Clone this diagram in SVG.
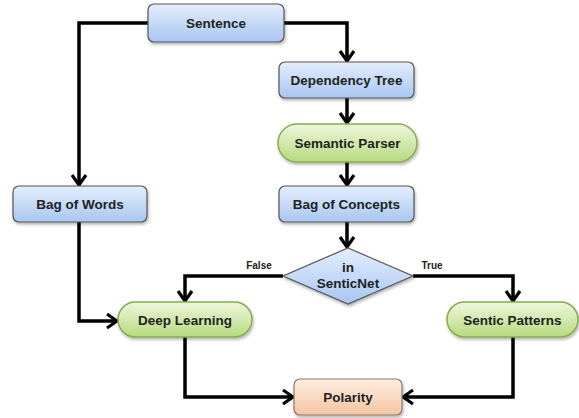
<svg xmlns="http://www.w3.org/2000/svg" width="579" height="418" viewBox="0 0 579 418">
<defs>
<linearGradient id="gb" x1="0" y1="0" x2="0" y2="1">
<stop offset="0" stop-color="#e4eefc"/><stop offset="1" stop-color="#a7c6f1"/>
</linearGradient>
<linearGradient id="gg" x1="0" y1="0" x2="0" y2="1">
<stop offset="0" stop-color="#eef7dc"/><stop offset="1" stop-color="#b6da7e"/>
</linearGradient>
<linearGradient id="go" x1="0" y1="0" x2="0" y2="1">
<stop offset="0" stop-color="#fdeee2"/><stop offset="1" stop-color="#f5c49f"/>
</linearGradient>
<filter id="sh" x="-10%" y="-20%" width="130%" height="160%">
<feDropShadow dx="1" dy="2" stdDeviation="1.5" flood-color="#000" flood-opacity="0.3"/>
</filter>
<marker id="arr" viewBox="-13 -9 15 18" refX="0" refY="0" markerWidth="15" markerHeight="18" orient="auto" markerUnits="userSpaceOnUse">
<path d="M-10,-7 L0,0 L-10,7" fill="none" stroke="#000" stroke-width="3.2" stroke-linejoin="miter"/>
</marker>
</defs>
<style>
.b{fill:url(#gb);stroke:#555;stroke-width:1.2;filter:url(#sh)}
.g{fill:url(#gg);stroke:#86ad50;stroke-width:1.5;filter:url(#sh)}
.o{fill:url(#go);stroke:#8a7a6e;stroke-width:1.2;filter:url(#sh)}
.t{font-family:"Liberation Sans",Arial,sans-serif;font-weight:bold;font-size:13.5px;fill:#222;text-anchor:middle}
.s{font-family:"Liberation Sans",Arial,sans-serif;font-weight:bold;font-size:10px;fill:#222;text-anchor:middle}
.c{fill:none;stroke:#000;stroke-width:3.5;marker-end:url(#arr)}
</style>
<g id="connectors">
<path class="c" d="M284,23 H347 V61"/>
<path class="c" d="M148,23 H79 V185"/>
<path class="c" d="M347,98 V123"/>
<path class="c" d="M347,162 V185"/>
<path class="c" d="M347,222 V247"/>
<path class="c" d="M79,222 V321 H117"/>
<path class="c" d="M283,276 H185 V301"/>
<path class="c" d="M413,276 H513 V301"/>
<path class="c" d="M185,337 V397 H293"/>
<path class="c" d="M513,337 V397 H403"/>
<text class="s" x="259" y="269">False</text>
<text class="s" x="432" y="269">True</text>
</g>
<g id="sentence"><rect class="b" x="148" y="4" width="136" height="38" rx="6"/><text class="t" x="216" y="28">Sentence</text></g>
<g id="dependency-tree"><rect class="b" x="279" y="62" width="135" height="36" rx="6"/><text class="t" x="346.5" y="85">Dependency Tree</text></g>
<g id="semantic-parser"><rect class="g" x="278" y="124" width="139" height="38" rx="19"/><text class="t" x="347.5" y="148">Semantic Parser</text></g>
<g id="bag-of-concepts"><rect class="b" x="279" y="186" width="135" height="36" rx="6"/><text class="t" x="346.5" y="209">Bag of Concepts</text></g>
<g id="bag-of-words"><rect class="b" x="13" y="186" width="134" height="36" rx="6"/><text class="t" x="80" y="209">Bag of Words</text></g>
<g id="in-senticnet"><path class="b" d="M348,248 L413,276 L348,304 L283,276 Z"/><text class="t" x="348" y="272">in</text><text class="t" x="348" y="287.5">SenticNet</text></g>
<g id="deep-learning"><rect class="g" x="118" y="302" width="134" height="35" rx="17.5"/><text class="t" x="185" y="324.5">Deep Learning</text></g>
<g id="sentic-patterns"><rect class="g" x="447" y="302" width="131" height="35" rx="17.5"/><text class="t" x="512.5" y="324.5">Sentic Patterns</text></g>
<g id="polarity"><rect class="o" x="294" y="379" width="108" height="36" rx="6"/><text class="t" x="348" y="402">Polarity</text></g>
</svg>
